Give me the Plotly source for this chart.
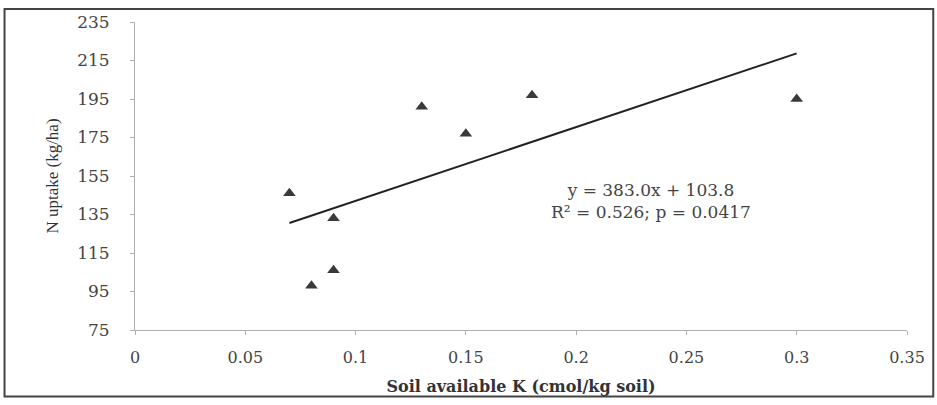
import plotly.graph_objects as go

# Data
soil_k = [0.07, 0.08, 0.09, 0.09, 0.13, 0.15, 0.18, 0.30]
n_uptake = [146, 98, 133, 106, 191, 177, 197, 195]

slope = 383.0
intercept = 103.8
trend_x = [0.07, 0.30]
trend_y = [slope * v + intercept for v in trend_x]

x_ticks = [0, 0.05, 0.1, 0.15, 0.2, 0.25, 0.3, 0.35]
x_ticklabels = ["0", "0.05", "0.1", "0.15", "0.2", "0.25", "0.3", "0.35"]
y_ticks = [75, 95, 115, 135, 155, 175, 195, 215, 235]

serif = "Liberation Serif, Times New Roman, serif"
wide_serif = "DejaVu Serif, serif"

fig = go.Figure()
fig.add_trace(go.Scatter(
    x=soil_k, y=n_uptake, mode="markers",
    marker=dict(symbol="triangle-up", size=11, color="#3a3a3a"),
    showlegend=False, hoverinfo="x+y"))
fig.add_trace(go.Scatter(
    x=trend_x, y=trend_y, mode="lines",
    line=dict(color="#222222", width=2),
    showlegend=False, hoverinfo="skip"))

fig.add_annotation(
    x=0.234, y=142, xref="x", yref="y",
    text="y = 383.0x + 103.8<br>R² = 0.526; p = 0.0417",
    showarrow=False, align="center",
    font=dict(family=wide_serif, size=17, color="#444444"))

# outer frame around the whole figure
fig.add_shape(type="rect", xref="paper", yref="paper",
              x0=-0.169, x1=1.034, y0=-0.216, y1=1.042,
              line=dict(color="#444444", width=2), fillcolor="rgba(0,0,0,0)",
              layer="below")

fig.update_layout(
    width=937, height=405,
    margin=dict(l=135, r=30, t=15, b=75),
    paper_bgcolor="white", plot_bgcolor="white",
    font=dict(family=serif, color="#333333"),
    xaxis=dict(
        range=[0, 0.35], tickvals=x_ticks, ticktext=x_ticklabels,
        showgrid=False, zeroline=False,
        showline=True, linecolor="#b0b0b0", linewidth=1,
        ticks="outside", tickcolor="#b0b0b0", ticklen=4,
        ticklabelstandoff=9,
        tickfont=dict(family=wide_serif, size=16, color="#444444"),
        title=dict(text="<b>Soil available K (cmol/kg soil)</b>", standoff=14,
                   font=dict(family=wide_serif, size=16, color="#333333"))),
    yaxis=dict(
        range=[75, 235], tickvals=y_ticks,
        showgrid=False, zeroline=False,
        showline=True, linecolor="#b0b0b0", linewidth=1,
        ticks="outside", tickcolor="#b0b0b0", ticklen=4,
        ticklabelstandoff=17,
        tickfont=dict(family=wide_serif, size=17, color="#444444"),
        title=dict(text="N uptake (kg/ha)", standoff=14,
                   font=dict(family=serif, size=17, color="#333333"))),
)

fig.write_html("out.html")
